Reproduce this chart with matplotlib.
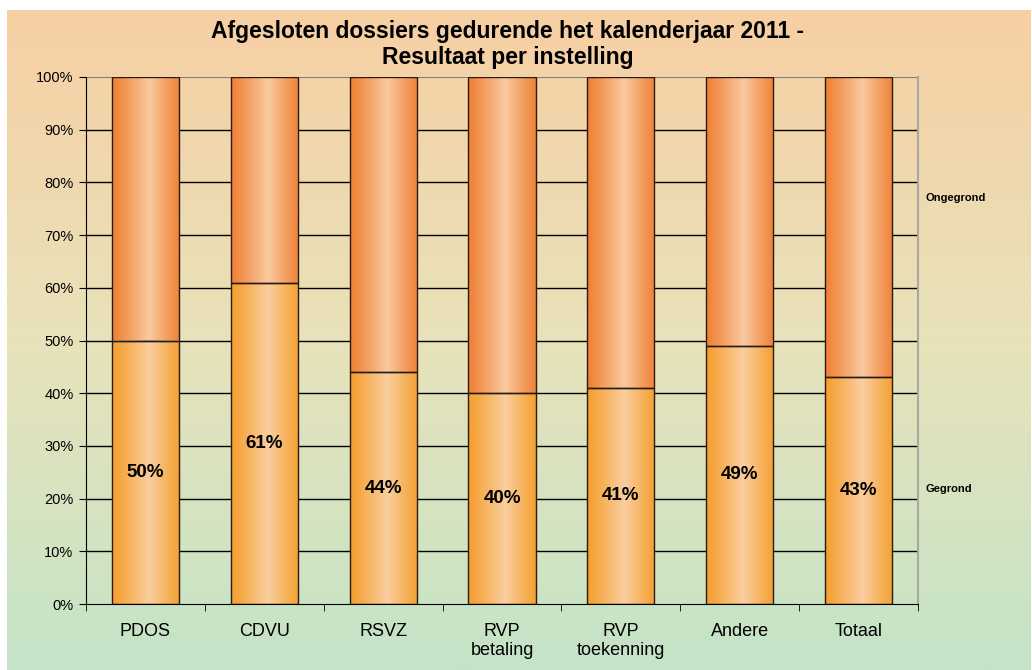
import numpy as np
import matplotlib.pyplot as plt
from matplotlib.colors import LinearSegmentedColormap

plt.rcParams["font.family"] = ["Liberation Sans", "DejaVu Sans"]

# data
categories = ["PDOS", "CDVU", "RSVZ", "RVP\nbetaling", "RVP\ntoekenning", "Andere", "Totaal"]
gegrond = [50, 61, 44, 40, 41, 49, 43]
ongegrond = [100 - g for g in gegrond]
series_names = ["Gegrond", "Ongegrond"]


def bar_gradient(edge_l, center, edge_r, peak=0.55, n=200):
    # horizontal gradient, light near the middle, darker at both edges
    t = np.linspace(0, 1, n)
    f = np.where(t < peak, t / peak, (1 - t) / (1 - peak))
    f = f ** 1.1
    edge = np.where(t[:, None] < peak, np.array(edge_l), np.array(edge_r))
    cols = edge + (np.array(center) - edge) * f[:, None]
    return (cols / 255.0)[None, :, :]


grad_bottom = bar_gradient((245, 158, 45), (250, 206, 160), (244, 162, 52))
grad_top = bar_gradient((240, 128, 52), (249, 202, 160), (239, 132, 58))

fig = plt.figure(figsize=(10.32, 6.70), dpi=100)

# background panel with vertical gradient
bg = fig.add_axes([7 / 1032, 0, 1 - 8 / 1032, 660 / 670], zorder=-10)
bg_cmap = LinearSegmentedColormap.from_list(
    "bg", [(196 / 255, 228 / 255, 200 / 255),
           (232 / 255, 226 / 255, 186 / 255),
           (247 / 255, 207 / 255, 163 / 255)])
bg.imshow(np.linspace(0, 1, 256)[:, None], aspect="auto", cmap=bg_cmap,
          origin="lower", extent=[0, 1, 0, 1])
bg.axis("off")

ax = fig.add_axes([86 / 1032, 1 - 604 / 670, (918 - 86) / 1032, (604 - 77) / 670])
ax.set_facecolor("none")

x = np.arange(len(categories))
width = 0.565

b1 = ax.bar(x, gegrond, width, color="none", edgecolor="#2a1a10", linewidth=1.0, zorder=3)
b2 = ax.bar(x, ongegrond, width, bottom=gegrond, color="none", edgecolor="#2a1a10",
            linewidth=1.0, zorder=3)

for bars, grad in [(b1, grad_bottom), (b2, grad_top)]:
    for rect in bars:
        x0, y0 = rect.get_x(), rect.get_y()
        im = ax.imshow(grad, aspect="auto", zorder=2,
                       extent=[x0, x0 + rect.get_width(), y0, y0 + rect.get_height()])
        im.set_clip_path(rect)

for xi, g in zip(x, gegrond):
    ax.text(xi, g / 2, f"{g}%", ha="center", va="center", fontsize=13.5,
            fontweight="bold", zorder=4)

ax.set_xlim(-0.5, len(categories) - 0.5)
ax.set_ylim(0, 100)
ax.set_yticks(np.arange(0, 101, 10))
ax.set_yticklabels([f"{v}%" for v in range(0, 101, 10)], fontsize=10.5)
ax.set_xticks(x)
ax.set_xticklabels(categories, fontsize=13, linespacing=1.15)
ax.tick_params(axis="x", length=0, pad=14)
ax.set_xticks(np.arange(-0.5, len(categories), 1), minor=True)
ax.tick_params(axis="x", which="minor", length=5, direction="out", color="black")
ax.tick_params(axis="y", length=5, direction="out", pad=4)

for v in range(10, 100, 10):
    ax.axhline(v, color="black", linewidth=1.0, zorder=1)
ax.axhline(100, color="#808080", linewidth=1.5, zorder=1)

ax.spines["right"].set_color("#a8a8a0")
ax.spines["right"].set_linewidth(1.5)
ax.spines["top"].set_visible(False)
ax.spines["left"].set_color("black")
ax.spines["bottom"].set_color("black")
ax.spines["bottom"].set_zorder(5)

fig.text(0.492, 0.934, "Afgesloten dossiers gedurende het kalenderjaar 2011 -\nResultaat per instelling",
         ha="center", va="center", fontsize=16.5, fontweight="bold", linespacing=1.15)

fig.text(925 / 1032, 1 - 198 / 670, series_names[1], fontsize=8, fontweight="bold", va="center")
fig.text(925 / 1032, 1 - 489 / 670, series_names[0], fontsize=8, fontweight="bold", va="center")

fig.savefig("out.png", dpi=100)
